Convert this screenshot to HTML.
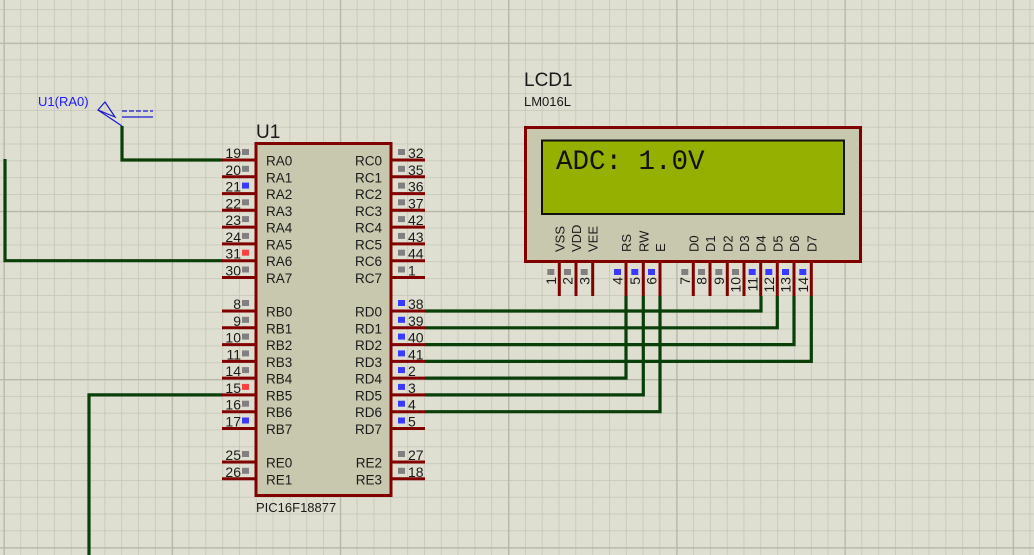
<!DOCTYPE html>
<html><head><meta charset="utf-8"><style>
html,body{margin:0;padding:0;background:#dfdfd1;}
svg{display:block;}
text{font-family:"Liberation Sans",sans-serif;fill:#1a1a1a;}
</style></head><body>
<svg width="1034" height="555" viewBox="0 0 1034 555" xmlns="http://www.w3.org/2000/svg">
<defs>
<pattern id="minor" x="3.5" y="42.7" width="16.82" height="16.82" patternUnits="userSpaceOnUse">
<path d="M0 0H16.82M0 0V16.82" stroke="#c6c6b8" stroke-width="1.6" fill="none"/>
</pattern>
<pattern id="major" x="3.5" y="42.7" width="168.2" height="168.2" patternUnits="userSpaceOnUse">
<path d="M0 0H168.2M0 0V168.2" stroke="#b5b5a8" stroke-width="2.6" fill="none"/>
</pattern>
</defs>
<rect width="1034" height="555" fill="#dfdfd1"/>
<rect width="1034" height="555" fill="url(#minor)"/>
<rect width="1034" height="555" fill="url(#major)"/>

<!-- wires -->
<g stroke="#0a3f0a" stroke-width="3.2" fill="none">
<path d="M5 159V260.7H222"/>
<path d="M122 126V160H222"/>
<path d="M89 555V394.9H222"/>
<path d="M425 311H761V296"/>
<path d="M425 327.8H777.3V296"/>
<path d="M425 344.6H794V296"/>
<path d="M425 361.4H811.3V296"/>
<path d="M425 378.1H626V296"/>
<path d="M425 394.9H643.3V296"/>
<path d="M425 411.7H660V296"/>
</g>

<!-- probe -->
<text x="38" y="106" font-size="13" style="fill:#1a1aff">U1(RA0)</text>
<g stroke="#1a1acc" stroke-width="1.2" fill="none">
<path d="M98 110L105 102L115 117Z"/>
<path d="M98 110L122 126"/>
<path d="M122 111H153" stroke-dasharray="5,2"/>
<path d="M122 117H153"/>
</g>

<!-- chip -->
<text x="256" y="138" font-size="19">U1</text>
<rect x="256" y="143.5" width="135" height="352" fill="#c8c8ae" stroke="#800000" stroke-width="3"/>
<text x="256" y="512" font-size="13">PIC16F18877</text>
<g stroke="#800000" stroke-width="3">
<path d="M222 160H256M222 176.8H256M222 193.6H256M222 210.3H256M222 227.1H256M222 243.9H256M222 260.7H256M222 277.5H256M222 311H256M222 327.8H256M222 344.6H256M222 361.4H256M222 378.1H256M222 394.9H256M222 411.7H256M222 428.5H256M222 462H256M222 478.8H256"/>
<path d="M391 160H425M391 176.8H425M391 193.6H425M391 210.3H425M391 227.1H425M391 243.9H425M391 260.7H425M391 277.5H425M391 311H425M391 327.8H425M391 344.6H425M391 361.4H425M391 378.1H425M391 394.9H425M391 411.7H425M391 428.5H425M391 462H425M391 478.8H425"/>
</g>
<g font-size="13.5">
<text x="266" y="165.5">RA0</text><text x="266" y="182.3">RA1</text><text x="266" y="199.1">RA2</text><text x="266" y="215.8">RA3</text><text x="266" y="232.6">RA4</text><text x="266" y="249.4">RA5</text><text x="266" y="266.2">RA6</text><text x="266" y="283">RA7</text>
<text x="266" y="316.5">RB0</text><text x="266" y="333.3">RB1</text><text x="266" y="350.1">RB2</text><text x="266" y="366.9">RB3</text><text x="266" y="383.6">RB4</text><text x="266" y="400.4">RB5</text><text x="266" y="417.2">RB6</text><text x="266" y="434">RB7</text>
<text x="266" y="467.5">RE0</text><text x="266" y="484.3">RE1</text>
</g>
<g font-size="13.5" text-anchor="end">
<text x="382" y="165.5">RC0</text><text x="382" y="182.3">RC1</text><text x="382" y="199.1">RC2</text><text x="382" y="215.8">RC3</text><text x="382" y="232.6">RC4</text><text x="382" y="249.4">RC5</text><text x="382" y="266.2">RC6</text><text x="382" y="283">RC7</text>
<text x="382" y="316.5">RD0</text><text x="382" y="333.3">RD1</text><text x="382" y="350.1">RD2</text><text x="382" y="366.9">RD3</text><text x="382" y="383.6">RD4</text><text x="382" y="400.4">RD5</text><text x="382" y="417.2">RD6</text><text x="382" y="434">RD7</text>
<text x="382" y="467.5">RE2</text><text x="382" y="484.3">RE3</text>
</g>
<g font-size="14" text-anchor="end">
<text x="241" y="158">19</text><text x="241" y="174.8">20</text><text x="241" y="191.6">21</text><text x="241" y="208.3">22</text><text x="241" y="225.1">23</text><text x="241" y="241.9">24</text><text x="241" y="258.7">31</text><text x="241" y="275.5">30</text>
<text x="241" y="309">8</text><text x="241" y="325.8">9</text><text x="241" y="342.6">10</text><text x="241" y="359.4">11</text><text x="241" y="376.1">14</text><text x="241" y="392.9">15</text><text x="241" y="409.7">16</text><text x="241" y="426.5">17</text>
<text x="241" y="460">25</text><text x="241" y="476.8">26</text>
</g>
<g font-size="14">
<text x="408" y="158">32</text><text x="408" y="174.8">35</text><text x="408" y="191.6">36</text><text x="408" y="208.3">37</text><text x="408" y="225.1">42</text><text x="408" y="241.9">43</text><text x="408" y="258.7">44</text><text x="408" y="275.5">1</text>
<text x="408" y="309">38</text><text x="408" y="325.8">39</text><text x="408" y="342.6">40</text><text x="408" y="359.4">41</text><text x="408" y="376.1">2</text><text x="408" y="392.9">3</text><text x="408" y="409.7">4</text><text x="408" y="426.5">5</text>
<text x="408" y="460">27</text><text x="408" y="476.8">18</text>
</g>
<g fill="#808080">
<rect x="242" y="149" width="7" height="6"/><rect x="242" y="165.8" width="7" height="6"/><rect x="242" y="182.6" width="7" height="6" fill="#3a3aff"/><rect x="242" y="199.3" width="7" height="6"/><rect x="242" y="216.1" width="7" height="6"/><rect x="242" y="232.9" width="7" height="6"/><rect x="242" y="249.7" width="7" height="6" fill="#ff4040"/><rect x="242" y="266.5" width="7" height="6"/>
<rect x="242" y="300" width="7" height="6"/><rect x="242" y="316.8" width="7" height="6"/><rect x="242" y="333.6" width="7" height="6"/><rect x="242" y="350.4" width="7" height="6"/><rect x="242" y="367.1" width="7" height="6"/><rect x="242" y="383.9" width="7" height="6" fill="#ff4040"/><rect x="242" y="400.7" width="7" height="6"/><rect x="242" y="417.5" width="7" height="6" fill="#3a3aff"/>
<rect x="242" y="451" width="7" height="6"/><rect x="242" y="467.8" width="7" height="6"/>
<rect x="398" y="149" width="7" height="6"/><rect x="398" y="165.8" width="7" height="6"/><rect x="398" y="182.6" width="7" height="6"/><rect x="398" y="199.3" width="7" height="6"/><rect x="398" y="216.1" width="7" height="6"/><rect x="398" y="232.9" width="7" height="6"/><rect x="398" y="249.7" width="7" height="6"/><rect x="398" y="266.5" width="7" height="6"/>
<g fill="#3a3aff"><rect x="398" y="300" width="7" height="6"/><rect x="398" y="316.8" width="7" height="6"/><rect x="398" y="333.6" width="7" height="6"/><rect x="398" y="350.4" width="7" height="6"/><rect x="398" y="367.1" width="7" height="6"/><rect x="398" y="383.9" width="7" height="6"/><rect x="398" y="400.7" width="7" height="6"/><rect x="398" y="417.5" width="7" height="6"/></g>
<rect x="398" y="451" width="7" height="6"/><rect x="398" y="467.8" width="7" height="6"/>
</g>

<!-- LCD -->
<text x="524" y="86" font-size="19">LCD1</text>
<text x="524" y="106" font-size="13">LM016L</text>
<g stroke="#800000" stroke-width="3">
<path d="M559.3 262V296M576 262V296M592.7 262V296M626 262V296M643.3 262V296M660 262V296M693.3 262V296M710 262V296M727.3 262V296M744 262V296M760.7 262V296M777.3 262V296M794 262V296M811.3 262V296"/>
</g>
<rect x="525.5" y="127.5" width="335" height="134" fill="#c8c8ae" stroke="#800000" stroke-width="3"/>
<rect x="542" y="140.5" width="302" height="73.5" fill="#95b000" stroke="#111" stroke-width="2"/>
<text x="556" y="169" font-size="27.5" style="font-family:'Liberation Mono',monospace;fill:#111">ADC: 1.0V</text>
<g font-size="13">
<text transform="translate(564.3,252) rotate(-90)">VSS</text>
<text transform="translate(581,252) rotate(-90)">VDD</text>
<text transform="translate(597.7,252) rotate(-90)">VEE</text>
<text transform="translate(631,252) rotate(-90)">RS</text>
<text transform="translate(648.3,252) rotate(-90)">RW</text>
<text transform="translate(665,252) rotate(-90)">E</text>
<text transform="translate(698.3,252) rotate(-90)">D0</text>
<text transform="translate(715,252) rotate(-90)">D1</text>
<text transform="translate(732.3,252) rotate(-90)">D2</text>
<text transform="translate(749,252) rotate(-90)">D3</text>
<text transform="translate(765.7,252) rotate(-90)">D4</text>
<text transform="translate(782.3,252) rotate(-90)">D5</text>
<text transform="translate(799,252) rotate(-90)">D6</text>
<text transform="translate(816.3,252) rotate(-90)">D7</text>
</g>
<g font-size="14" text-anchor="end">
<text transform="translate(556,277) rotate(-90)">1</text>
<text transform="translate(572.7,277) rotate(-90)">2</text>
<text transform="translate(589.4,277) rotate(-90)">3</text>
<text transform="translate(622.7,277) rotate(-90)">4</text>
<text transform="translate(640,277) rotate(-90)">5</text>
<text transform="translate(656.7,277) rotate(-90)">6</text>
<text transform="translate(690,277) rotate(-90)">7</text>
<text transform="translate(706.7,277) rotate(-90)">8</text>
<text transform="translate(724,277) rotate(-90)">9</text>
<text transform="translate(740.7,277) rotate(-90)">10</text>
<text transform="translate(757.4,277) rotate(-90)">11</text>
<text transform="translate(774,277) rotate(-90)">12</text>
<text transform="translate(790.7,277) rotate(-90)">13</text>
<text transform="translate(808,277) rotate(-90)">14</text>
</g>
<g fill="#808080">
<rect x="547.3" y="269" width="7" height="6"/><rect x="564" y="269" width="7" height="6"/><rect x="580.7" y="269" width="7" height="6"/>
<g fill="#3a3aff"><rect x="614" y="269" width="7" height="6"/><rect x="631.3" y="269" width="7" height="6"/><rect x="648" y="269" width="7" height="6"/></g>
<rect x="681.3" y="269" width="7" height="6"/><rect x="698" y="269" width="7" height="6"/><rect x="715.3" y="269" width="7" height="6"/><rect x="732" y="269" width="7" height="6"/>
<g fill="#3a3aff"><rect x="748.7" y="269" width="7" height="6"/><rect x="765.3" y="269" width="7" height="6"/><rect x="782" y="269" width="7" height="6"/><rect x="799.3" y="269" width="7" height="6"/></g>
</g>
</svg>
</body></html>
